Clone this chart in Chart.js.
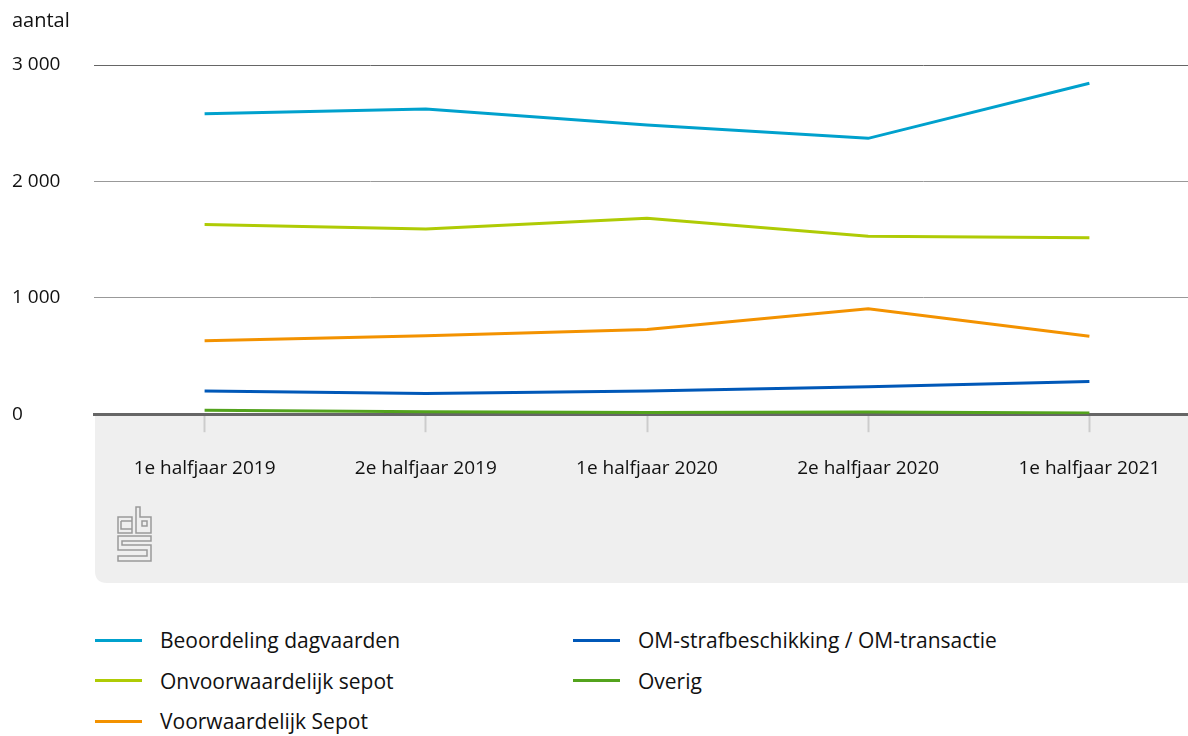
<!DOCTYPE html>
<html>
<head>
<meta charset="utf-8">
<script src="https://cdn.jsdelivr.net/npm/chart.js@4.4.0/dist/chart.umd.min.js"></script>
<style>
    body { margin: 0; overflow: hidden; background: #fff; font-family: "Open Sans", sans-serif; }
    #wrap { position: relative; width: 1200px; height: 592px; }
    #legend { position: absolute; left: 95px; top: 627px; width: 1000px; height: 120px; }
    .item { position: absolute; display: flex; align-items: center; font-size: 21px; color: #111; line-height: 26px; }
    .item span.line { display: inline-block; width: 47px; height: 3px; margin-right: 18px; }
</style>
</head>
<body>
<div id="wrap"><canvas id="chart"></canvas></div>
<div id="legend"></div>
<script>
// Categorieën en waarden
const categorieen = ['1e halfjaar 2019', '2e halfjaar 2019', '1e halfjaar 2020', '2e halfjaar 2020', '1e halfjaar 2021'];

const beoordelingDagvaarden = [2582, 2623, 2485, 2370, 2843];
const onvoorwaardelijkSepot = [1629, 1592, 1683, 1528, 1515];
const voorwaardelijkSepot = [632, 675, 727, 905, 669];
const omStrafbeschikking = [200, 177, 200, 235, 280];
const overig = [35, 22, 15, 18, 10];

const yTicks = [0, 1000, 2000, 3000];

const reeksen = [
    { label: 'Beoordeling dagvaarden', data: beoordelingDagvaarden, color: '#00a1cd' },
    { label: 'Onvoorwaardelijk sepot', data: onvoorwaardelijkSepot, color: '#afcb05' },
    { label: 'Voorwaardelijk Sepot', data: voorwaardelijkSepot, color: '#f39200' },
    { label: 'OM-strafbeschikking / OM-transactie', data: omStrafbeschikking, color: '#0058b8' },
    { label: 'Overig', data: overig, color: '#53a31d' }
];

const fontFam = '"Open Sans", sans-serif';

// grijs vlak onder de x-as met cbs logo
const achtergrondPlugin = {
    id: 'achtergrond',
    beforeDraw(chart) {
        const c = chart.ctx;
        const a = chart.chartArea;
        const top = a.bottom, bottom = 583, left = 95, right = chart.width, r = 12;
        c.save();
        c.fillStyle = '#efefef';
        c.beginPath();
        c.moveTo(left, top);
        c.lineTo(right, top);
        c.lineTo(right, bottom);
        c.lineTo(left + r, bottom);
        c.quadraticCurveTo(left, bottom, left, bottom - r);
        c.closePath();
        c.fill();

        // logo (vereenvoudigd)
        c.strokeStyle = '#9a9a9a';
        c.lineWidth = 1.5;
        c.beginPath();
        // c
        c.rect(118, 517, 14, 16);
        c.moveTo(121, 521); c.lineTo(132, 521); c.moveTo(121, 521); c.lineTo(121, 529); c.lineTo(132, 529);
        // b
        c.moveTo(136, 507); c.lineTo(140, 507); c.lineTo(140, 517); c.lineTo(151, 517); c.lineTo(151, 533); c.lineTo(136, 533); c.closePath();
        c.rect(142, 521, 5, 5);
        // s
        c.moveTo(118, 536); c.lineTo(151, 536); c.lineTo(151, 541); c.lineTo(122, 541); c.lineTo(122, 545);
        c.lineTo(151, 545); c.lineTo(151, 561); c.lineTo(118, 561); c.lineTo(118, 556); c.lineTo(147, 556);
        c.lineTo(147, 550); c.lineTo(118, 550); c.closePath();
        c.stroke();
        c.restore();
    }
};

const ctx = document.getElementById('chart').getContext('2d');

const chart = new Chart(ctx, {
    type: 'line',
    data: {
        labels: categorieen,
        datasets: reeksen.map(r => ({
            label: r.label,
            data: r.data,
            borderColor: r.color,
            backgroundColor: r.color,
            borderWidth: 3,
            pointRadius: 0,
            tension: 0,
            fill: false
        }))
    },
    options: {
        responsive: true,
        maintainAspectRatio: false,
        animation: false,
        layout: { padding: { left: 12, right: 0, top: 0, bottom: 87 } },
        plugins: {
            legend: { display: false },
            tooltip: { enabled: false },
            title: {
                display: true,
                text: 'aantal',
                align: 'start',
                color: '#111',
                font: { family: fontFam, size: 20, weight: 'normal' },
                padding: { top: 9, bottom: 32 }
            }
        },
        scales: {
            x: {
                offset: true,
                grid: {
                    drawOnChartArea: false,
                    drawTicks: true,
                    tickLength: 18,
                    tickColor: '#cccccc',
                    tickWidth: 2
                },
                border: { display: true, color: '#666666', width: 3 },
                ticks: {
                    color: '#111',
                    padding: 25,
                    maxRotation: 0,
                    font: { family: fontFam, size: 19 }
                }
            },
            y: {
                min: 0,
                max: 3000,
                afterBuildTicks(scale) {
                    scale.ticks = yTicks.map(v => ({ value: v }));
                },
                afterFit(scale) {
                    scale.width = 82;
                },
                grid: {
                    drawTicks: false,
                    color: ctx => ctx.tick && ctx.tick.value === 3000 ? '#666666' : '#999999',
                    lineWidth: ctx => ctx.tick && ctx.tick.value === 0 ? 0 : 1
                },
                border: { display: false },
                ticks: {
                    crossAlign: 'far',
                    padding: 0,
                    color: '#111',
                    font: { family: fontFam, size: 19 },
                    callback: v => v.toLocaleString('fr-FR').replace(/\s/g, ' ')
                }
            }
        }
    },
    plugins: [achtergrondPlugin]
});

// legenda in twee kolommen
const legend = document.getElementById('legend');
chart.data.datasets.forEach((ds, i) => {
    const kol = i < 3 ? 0 : 1;
    const rij = i < 3 ? i : i - 3;
    const el = document.createElement('div');
    el.className = 'item';
    el.style.left = (kol * 478) + 'px';
    el.style.top = (rij * 40.5) + 'px';
    el.innerHTML = '<span class="line" style="background:' + ds.borderColor + '"></span>' + ds.label;
    legend.appendChild(el);
});
</script>
</body>
</html>
